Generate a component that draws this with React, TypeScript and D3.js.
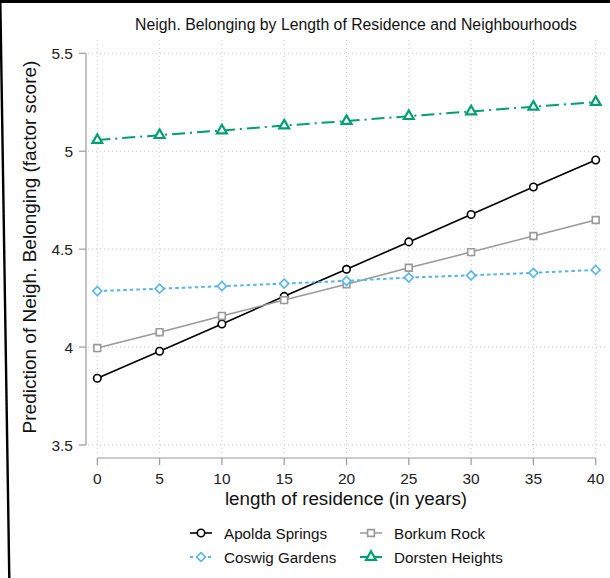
import * as d3 from "d3";

const years = [0, 5, 10, 15, 20, 25, 30, 35, 40];
const yTicks = [3.5, 4, 4.5, 5, 5.5];

const apolda = [3.841, 3.979, 4.118, 4.259, 4.397, 4.537, 4.677, 4.817, 4.955];
const borkum = [3.995, 4.076, 4.159, 4.24, 4.321, 4.405, 4.485, 4.567, 4.649];
const coswig = [4.286, 4.298, 4.311, 4.324, 4.338, 4.355, 4.366, 4.379, 4.394];
const dorsten = [5.057, 5.082, 5.106, 5.131, 5.154, 5.179, 5.203, 5.227, 5.251];

const seriesNames = ["Apolda Springs", "Borkum Rock", "Coswig Gardens", "Dorsten Heights"];

const title = "Neigh. Belonging by Length of Residence and Neighbourhoods";
const xTitle = "length of residence (in years)";
const yTitle = "Prediction of Neigh. Belonging (factor score)";

const W = 610;
const H = 578;
const font = "Arial, 'Liberation Sans', sans-serif";

const styles = [
  { color: "#000000", dash: "none", width: 1.6, shape: d3.symbolCircle, size: 44, rotate: 0 },
  { color: "#999999", dash: "none", width: 1.5, shape: d3.symbolSquare, size: 46, rotate: 0 },
  { color: "#56B4E9", dash: "3.5,3", width: 2, shape: d3.symbolSquare, size: 40, rotate: 45 },
  { color: "#009E73", dash: "13,5,2,5", width: 2, shape: d3.symbolTriangle, size: 42, rotate: 0 },
];

const App = () => {
  const x = d3.scaleLinear().domain([0, 40]).range([97.3, 595.7]);
  const y = d3.scaleLinear().domain([3.5, 5.5]).range([445, 53.3]);

  const series = [apolda, borkum, coswig, dorsten];
  const line = d3
    .line<number>()
    .x((_, i) => x(years[i]))
    .y((d) => y(d));

  const symbolPath = (i: number) => d3.symbol().type(styles[i].shape).size(styles[i].size)() || "";

  return (
    <svg width={W} height={H} style={{ position: "absolute", left: 0, top: 0, background: "#fff" }} fontFamily={font}>
      <rect x={0} y={0} width={W} height={H} fill="#fff" />
      {/* black frame pieces from the screenshot */}
      <line x1={0} y1={1.5} x2={W} y2={1.5} stroke="#000" strokeWidth={3} />
      <line x1={0.3} y1={0} x2={9.3} y2={H} stroke="#000" strokeWidth={2.4} />

      <text x={356} y={30} textAnchor="middle" fontSize={15.8} fill="#111">
        {title}
      </text>

      {/* grid */}
      <g stroke="#c8c8c8" strokeWidth={1} strokeDasharray="1,3">
        {yTicks.map((t) => (
          <line key={"gy" + t} x1={88} x2={608} y1={y(t)} y2={y(t)} />
        ))}
        {years.map((t) => (
          <line key={"gx" + t} x1={x(t)} x2={x(t)} y1={40} y2={454} />
        ))}
      </g>

      {/* axes */}
      <g stroke="#9a9a9a" strokeWidth={1.2}>
        <line x1={86} x2={86} y1={y(5.5)} y2={y(3.5)} />
        {yTicks.map((t) => (
          <line key={"ty" + t} x1={79} x2={86} y1={y(t)} y2={y(t)} />
        ))}
        <line x1={x(0)} x2={x(40)} y1={458} y2={458} />
        {years.map((t) => (
          <line key={"tx" + t} x1={x(t)} x2={x(t)} y1={458} y2={465} />
        ))}
      </g>
      {yTicks.map((t) => (
        <text key={"ly" + t} x={73} y={y(t) + 5.5} textAnchor="end" fontSize={15.5} fill="#222">
          {d3.format("~g")(t)}
        </text>
      ))}
      {years.map((t) => (
        <text key={"lx" + t} x={x(t)} y={484} textAnchor="middle" fontSize={15.5} fill="#222">
          {t}
        </text>
      ))}

      <text x={346} y={505} textAnchor="middle" fontSize={18.8} fill="#111">
        {xTitle}
      </text>
      <text
        transform={`translate(36,247) rotate(-90)`}
        textAnchor="middle"
        fontSize={19}
        fill="#111"
      >
        {yTitle}
      </text>

      {/* series */}
      {series.map((s, i) => (
        <g key={"s" + i}>
          <path
            d={line(s) || ""}
            fill="none"
            stroke={styles[i].color}
            strokeWidth={styles[i].width}
            strokeDasharray={styles[i].dash}
          />
          {s.map((v, j) => (
            <path
              key={j}
              d={symbolPath(i)}
              transform={`translate(${x(years[j])},${y(v)}) rotate(${styles[i].rotate})`}
              fill="#fff"
              stroke={styles[i].color}
              strokeWidth={i === 3 ? 2.2 : 1.6}
            />
          ))}
        </g>
      ))}

      {/* legend */}
      {seriesNames.map((name, i) => {
        const lx = i % 2 === 0 ? 190 : 360;
        const ly = i < 2 ? 533 : 557;
        return (
          <g key={name}>
            <line
              x1={lx}
              x2={lx + 22}
              y1={ly}
              y2={ly}
              stroke={styles[i].color}
              strokeWidth={styles[i].width}
              strokeDasharray={i === 2 ? "3,3" : i === 3 ? "none" : styles[i].dash}
            />
            <path
              d={symbolPath(i)}
              transform={`translate(${lx + 11},${ly}) rotate(${styles[i].rotate})`}
              fill="#fff"
              stroke={styles[i].color}
              strokeWidth={i === 3 ? 2.2 : 1.6}
            />
            <text x={lx + 34} y={ly + 5.5} fontSize={15.2} fill="#111">
              {name}
            </text>
          </g>
        );
      })}
    </svg>
  );
};

export default App;
